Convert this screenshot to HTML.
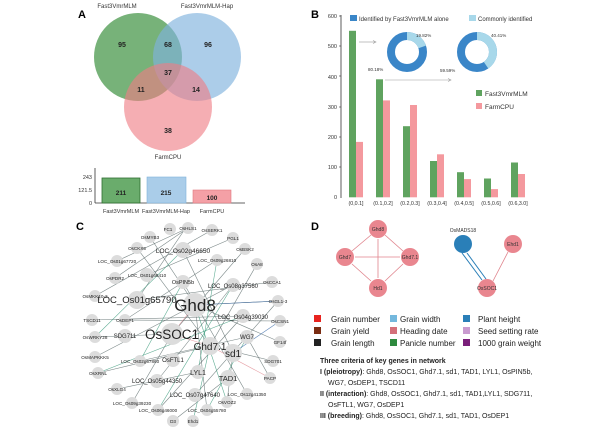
<!DOCTYPE html>
<html><head><meta charset="utf-8"><style>
html,body{margin:0;padding:0;background:#fff;}
svg{display:block;font-family:"Liberation Sans",Arial,sans-serif;}
</style></head><body>
<svg width="616" height="428" viewBox="0 0 616 428" xmlns="http://www.w3.org/2000/svg">
<rect width="616" height="428" fill="#fff"/>
<!-- Panel A -->
<text x="78" y="18" font-size="11" font-weight="bold">A</text>
<text x="117" y="8" font-size="6" text-anchor="middle" fill="#333">Fast3VmrMLM</text>
<text x="207" y="8" font-size="6" text-anchor="middle" fill="#333">Fast3VmrMLM-Hap</text>
<circle cx="138" cy="57" r="44" fill="#3d9140" fill-opacity="0.7"/>
<circle cx="197" cy="57" r="44" fill="#7fb2dd" fill-opacity="0.65"/>
<circle cx="168" cy="107" r="44" fill="#ef7d85" fill-opacity="0.62"/>
<g font-size="7" font-weight="bold" text-anchor="middle" fill="#222">
<text x="122" y="47">95</text><text x="168" y="47">68</text><text x="208" y="47">96</text>
<text x="168" y="75">37</text><text x="141" y="92">11</text><text x="196" y="92">14</text><text x="168" y="133">38</text></g>
<text x="168" y="159" font-size="6" text-anchor="middle" fill="#333">FarmCPU</text>
<line x1="95" y1="168" x2="95" y2="203" stroke="#333" stroke-width="0.8"/>
<line x1="95" y1="203" x2="245" y2="203" stroke="#333" stroke-width="0.8"/>
<g font-size="5.5" text-anchor="end" fill="#333"><text x="92" y="179">243</text><text x="92" y="192">121.5</text><text x="92" y="205">0</text></g>
<rect x="102" y="178" width="38" height="25" fill="#6aac6c" stroke="#2f6e31" stroke-width="0.8"/>
<rect x="147" y="177" width="39" height="26" fill="#aacde9" stroke="#7fb2dd" stroke-width="0.6"/>
<rect x="193" y="190" width="38" height="13" fill="#f4a0a6" stroke="#e07880" stroke-width="0.6"/>
<g font-size="6.5" font-weight="bold" text-anchor="middle" fill="#222"><text x="121" y="195">211</text><text x="166" y="195">215</text><text x="212" y="200">100</text></g>
<g font-size="5.5" text-anchor="middle" fill="#333"><text x="121" y="213">Fast3VmrMLM</text><text x="166" y="213">Fast3VmrMLM-Hap</text><text x="212" y="213">FarmCPU</text></g>
<!-- Panel B -->
<text x="311" y="18" font-size="11" font-weight="bold">B</text>
<line x1="341" y1="15" x2="341" y2="198" stroke="#333" stroke-width="0.8"/>
<g font-size="5.5" text-anchor="end" fill="#333">
<text x="337" y="18">600</text><text x="337" y="48">500</text><text x="337" y="79">400</text><text x="337" y="109">300</text><text x="337" y="139">200</text><text x="337" y="169">100</text><text x="337" y="199">0</text></g>
<g stroke="#333" stroke-width="0.6"><line x1="339" y1="16" x2="341" y2="16"/><line x1="339" y1="46" x2="341" y2="46"/><line x1="339" y1="76" x2="341" y2="76"/><line x1="339" y1="107" x2="341" y2="107"/><line x1="339" y1="137" x2="341" y2="137"/><line x1="339" y1="167" x2="341" y2="167"/></g>
<g fill="#5fa35f">
<rect x="349" y="30.8" width="7" height="166.5"/><rect x="376" y="79.3" width="7" height="118"/><rect x="403" y="126.2" width="7" height="71.1"/><rect x="430" y="161" width="7" height="36.3"/><rect x="457" y="172.2" width="7" height="25.1"/><rect x="484" y="178.5" width="7" height="18.8"/><rect x="511" y="162.5" width="7" height="34.8"/></g>
<g fill="#f4999e">
<rect x="356" y="141.9" width="7" height="55.4"/><rect x="383" y="100.4" width="7" height="96.9"/><rect x="410" y="105" width="7" height="92.3"/><rect x="437" y="154.3" width="7" height="43"/><rect x="464" y="179.1" width="7" height="18.2"/><rect x="491" y="189.1" width="7" height="8.2"/><rect x="518" y="174" width="7" height="23.3"/></g>
<g font-size="5.3" text-anchor="middle" fill="#333">
<text x="356" y="205">(0,0.1]</text><text x="383" y="205">(0.1,0.2]</text><text x="410" y="205">(0.2,0.3]</text><text x="437" y="205">(0.3,0.4]</text><text x="464" y="205">(0.4,0.5]</text><text x="491" y="205">(0.5,0.6]</text><text x="518" y="205">(0.6,3.0]</text></g>
<rect x="350" y="15" width="7" height="6" fill="#3a86c8"/><text x="359" y="21" font-size="6" fill="#333">Identified by Fast3VmrMLM alone</text>
<rect x="469" y="15" width="7" height="6" fill="#a8d8ea"/><text x="478" y="21" font-size="6" fill="#333">Commonly identified</text>
<circle cx="407" cy="52" r="16" fill="none" stroke="#3a86c8" stroke-width="8"/>
<circle cx="407" cy="52" r="16" fill="none" stroke="#a8d8ea" stroke-width="8" stroke-dasharray="19.92 200" transform="rotate(-90 407 52)"/>
<circle cx="477" cy="52" r="16" fill="none" stroke="#3a86c8" stroke-width="8"/>
<circle cx="477" cy="52" r="16" fill="none" stroke="#a8d8ea" stroke-width="8" stroke-dasharray="40.62 200" transform="rotate(-90 477 52)"/>
<g font-size="4.5" fill="#333"><text x="416" y="37">19.82%</text><text x="368" y="71">80.18%</text><text x="491" y="37">40.41%</text><text x="440" y="72">59.59%</text></g>
<g stroke="#999" stroke-width="0.6"><line x1="359" y1="42" x2="375" y2="42"/><line x1="385" y1="80" x2="450" y2="80"/></g>
<path d="M373 40.5L376 42L373 43.5M448 78.5L451 80L448 81.5" fill="none" stroke="#999" stroke-width="0.6"/>
<rect x="476" y="90" width="6" height="6" fill="#5fa35f"/><text x="485" y="96" font-size="6.5" fill="#333">Fast3VmrMLM</text>
<rect x="476" y="103" width="6" height="6" fill="#f4999e"/><text x="485" y="109" font-size="6.5" fill="#333">FarmCPU</text>
<!-- Panel C -->
<text x="76" y="230" font-size="11" font-weight="bold">C</text>
<g stroke-width="0.6" stroke-opacity="0.8">
<g stroke="#5a6a6a">
<line x1="185" y1="229" x2="137" y2="300"/><line x1="188" y1="228" x2="115" y2="278"/><line x1="212" y1="230" x2="95" y2="296"/><line x1="233" y1="238" x2="147" y2="275"/><line x1="150" y1="237" x2="195" y2="305"/><line x1="183" y1="250" x2="233" y2="353"/><line x1="217" y1="260" x2="125" y2="320"/><line x1="245" y1="249" x2="172" y2="334"/><line x1="257" y1="264" x2="210" y2="346"/><line x1="272" y1="282" x2="137" y2="300"/><line x1="278" y1="301" x2="195" y2="305"/><line x1="280" y1="321" x2="125" y2="320"/><line x1="280" y1="342" x2="195" y2="305"/><line x1="273" y1="361" x2="210" y2="346"/><line x1="270" y1="378" x2="247" y2="337"/><line x1="95" y1="337" x2="172" y2="334"/><line x1="95" y1="357" x2="233" y2="285"/><line x1="98" y1="373" x2="210" y2="346"/><line x1="117" y1="389" x2="198" y2="372"/><line x1="132" y1="403" x2="172" y2="334"/><line x1="158" y1="410" x2="243" y2="316"/><line x1="207" y1="410" x2="195" y2="305"/><line x1="227" y1="402" x2="233" y2="353"/><line x1="247" y1="394" x2="183" y2="282"/><line x1="92" y1="320" x2="243" y2="316"/><line x1="140" y1="361" x2="247" y2="337"/><line x1="157" y1="381" x2="233" y2="285"/><line x1="195" y1="395" x2="278" y2="301"/><line x1="173" y1="421" x2="228" y2="378"/><line x1="117" y1="261" x2="188" y2="228"/><line x1="137" y1="248" x2="210" y2="346"/>
</g>
<g stroke="#3a9a7a">
<line x1="183" y1="250" x2="95" y2="337"/><line x1="233" y1="285" x2="158" y2="410"/><line x1="195" y1="305" x2="227" y2="402"/><line x1="210" y1="346" x2="193" y2="421"/><line x1="247" y1="337" x2="207" y2="410"/><line x1="183" y1="282" x2="140" y2="361"/><line x1="243" y1="316" x2="98" y2="373"/><line x1="217" y1="260" x2="198" y2="372"/>
</g>
<g stroke="#3a6aa8"><line x1="195" y1="305" x2="278" y2="301"/><line x1="233" y1="353" x2="280" y2="321"/></g>
<g stroke="#e08890"><line x1="195" y1="305" x2="172" y2="334"/><line x1="172" y1="334" x2="210" y2="346"/><line x1="210" y1="346" x2="270" y2="378"/></g>
</g>
<g fill="#dcdcdc">
<circle cx="170" cy="229" r="6"/><circle cx="188" cy="228" r="6"/><circle cx="212" cy="230" r="6"/><circle cx="150" cy="237" r="6"/><circle cx="233" cy="238" r="6"/><circle cx="137" cy="248" r="6"/><circle cx="183" cy="250" r="8"/><circle cx="245" cy="249" r="6"/><circle cx="117" cy="261" r="6"/><circle cx="217" cy="260" r="6"/><circle cx="257" cy="264" r="6"/><circle cx="115" cy="278" r="6"/><circle cx="147" cy="275" r="7"/><circle cx="183" cy="282" r="7"/><circle cx="233" cy="285" r="7"/><circle cx="272" cy="282" r="6"/><circle cx="95" cy="296" r="6"/><circle cx="137" cy="300" r="9"/><circle cx="195" cy="305" r="12"/><circle cx="278" cy="301" r="6"/><circle cx="92" cy="320" r="6"/><circle cx="125" cy="320" r="6"/><circle cx="243" cy="316" r="7"/><circle cx="280" cy="321" r="6"/><circle cx="95" cy="337" r="6"/><circle cx="125" cy="336" r="7"/><circle cx="172" cy="334" r="11"/><circle cx="210" cy="346" r="9"/><circle cx="247" cy="337" r="7"/><circle cx="280" cy="342" r="6"/><circle cx="233" cy="353" r="9"/><circle cx="95" cy="357" r="6"/><circle cx="140" cy="361" r="6"/><circle cx="173" cy="360" r="7"/><circle cx="273" cy="361" r="6"/><circle cx="198" cy="372" r="7"/><circle cx="98" cy="373" r="6"/><circle cx="228" cy="378" r="8"/><circle cx="270" cy="378" r="6"/><circle cx="157" cy="381" r="7"/><circle cx="117" cy="389" r="6"/><circle cx="195" cy="395" r="7"/><circle cx="247" cy="394" r="6"/><circle cx="132" cy="403" r="6"/><circle cx="227" cy="402" r="6"/><circle cx="158" cy="410" r="6"/><circle cx="207" cy="410" r="6"/><circle cx="173" cy="421" r="6"/><circle cx="193" cy="421" r="6"/>
</g>
<g font-size="4.6" text-anchor="middle" fill="#222">
<text x="168" y="231">FC1</text><text x="188" y="230">OsHLS1</text><text x="212" y="232">OsSERK1</text><text x="150" y="239">OsMYB3</text><text x="233" y="240">PGL1</text><text x="137" y="250">OsCKX5</text><text x="245" y="251">OsBSK2</text><text x="117" y="263">LOC_Os01g67720</text><text x="217" y="262">LOC_Os09g26810</text><text x="257" y="266">OsA8</text><text x="115" y="280">OsPDR2</text><text x="147" y="277">LOC_Os01g66410</text><text x="272" y="284">OsCCA1</text><text x="95" y="298">OsMKK10-2</text><text x="278" y="303">OsGL1-3</text><text x="92" y="322">TSCD11</text><text x="125" y="322">OsDEP1</text><text x="280" y="323">OsCSN1</text><text x="95" y="339">OsWRKY28</text><text x="280" y="344">GF14f</text><text x="95" y="359">OsMAPKKK5</text><text x="140" y="363">LOC_Os02g57860</text><text x="273" y="363">SDG701</text><text x="98" y="375">OsXRNL</text><text x="270" y="380">PACP</text><text x="117" y="391">OsXLG4</text><text x="247" y="396">LOC_Os12g41350</text><text x="132" y="405">LOC_Os09g39230</text><text x="227" y="404">OsVOZ2</text><text x="158" y="412">LOC_Os06g46000</text><text x="207" y="412">LOC_Os04g55780</text><text x="173" y="423">D3</text><text x="193" y="423">Ehd1</text>
</g>
<g text-anchor="middle" fill="#222">
<text x="183" y="253" font-size="6.5">LOC_Os02g46650</text><text x="183" y="284" font-size="5.5">OsPIN5b</text><text x="233" y="288" font-size="6">LOC_Os08g37560</text><text x="243" y="319" font-size="6">LOC_Os04g39030</text>
<text x="137" y="303" font-size="9.5">LOC_Os01g65790</text><text x="195" y="311" font-size="17">Ghd8</text><text x="172" y="339" font-size="13.5">OsSOC1</text>
<text x="210" y="350" font-size="10">Ghd7.1</text><text x="233" y="357" font-size="10">sd1</text><text x="125" y="338" font-size="6">SDG711</text><text x="247" y="339" font-size="6">WG7</text>
<text x="173" y="362" font-size="6">OsFTL1</text><text x="198" y="375" font-size="7">LYL1</text><text x="228" y="381" font-size="7.5">TAD1</text><text x="157" y="383" font-size="6">LOC_Os05g44350</text><text x="195" y="397" font-size="6">LOC_Os07g47640</text>
</g>
<!-- Panel D -->
<text x="311" y="230" font-size="11" font-weight="bold">D</text>
<g stroke="#e0838c" stroke-width="0.8" fill="none">
<line x1="371" y1="235" x2="352" y2="251"/><line x1="385" y1="235" x2="403" y2="251"/><line x1="352" y1="264" x2="371" y2="281"/><line x1="403" y1="264" x2="385" y2="281"/><line x1="355" y1="257" x2="400" y2="257"/><line x1="378" y1="239" x2="378" y2="278"/><line x1="493" y1="281" x2="508" y2="252"/>
</g>
<g stroke="#2a7fb8" stroke-width="1"><line x1="482" y1="280" x2="462" y2="253"/><line x1="486" y1="279" x2="467" y2="253"/></g>
<g fill="#e9868f"><circle cx="378" cy="229" r="9"/><circle cx="345" cy="257" r="9"/><circle cx="410" cy="257" r="9"/><circle cx="378" cy="288" r="9"/><circle cx="513" cy="244" r="9"/><circle cx="487" cy="288" r="9"/></g>
<circle cx="463" cy="244" r="9" fill="#2a7fb8"/>
<g font-size="5" text-anchor="middle" fill="#333"><text x="378" y="231">Ghd8</text><text x="345" y="259">Ghd7</text><text x="410" y="259">Ghd7.1</text><text x="378" y="290">Hd1</text><text x="513" y="246">Ehd1</text><text x="487" y="290">OsSOC1</text><text x="463" y="232">OsMADS18</text></g>
<g font-size="8" fill="#222">
<rect x="314" y="315" width="7" height="7" fill="#e8231f"/><text x="331" y="322">Grain number</text>
<rect x="314" y="327" width="7" height="7" fill="#7a2c12"/><text x="331" y="334">Grain yield</text>
<rect x="314" y="339" width="7" height="7" fill="#222"/><text x="331" y="346">Grain length</text>
<rect x="390" y="315" width="7" height="7" fill="#74b8dd"/><text x="400" y="322">Grain width</text>
<rect x="390" y="327" width="7" height="7" fill="#d4707a"/><text x="400" y="334">Heading date</text>
<rect x="390" y="339" width="7" height="7" fill="#2e8a3e"/><text x="400" y="346">Panicle number</text>
<rect x="463" y="315" width="7" height="7" fill="#2a7fb8"/><text x="478" y="322">Plant height</text>
<rect x="463" y="327" width="7" height="7" fill="#c99bd0"/><text x="478" y="334">Seed setting rate</text>
<rect x="463" y="339" width="7" height="7" fill="#7a1f7a"/><text x="478" y="346">1000 grain weight</text>
</g>
<g font-size="7" fill="#222">
<text x="320" y="363" font-weight="bold">Three criteria of key genes in network</text>
<text x="320" y="374"><tspan font-weight="bold">I (pleiotropy)</tspan>: Ghd8, OsSOC1, Ghd7.1, sd1, TAD1, LYL1, OsPIN5b,</text>
<text x="328" y="385">WG7, OsDEP1, TSCD11</text>
<text x="320" y="396"><tspan font-weight="bold">II (interaction)</tspan>: Ghd8, OsSOC1, Ghd7.1, sd1, TAD1,LYL1, SDG711,</text>
<text x="328" y="407">OsFTL1, WG7, OsDEP1</text>
<text x="320" y="418"><tspan font-weight="bold">III (breeding)</tspan>: Ghd8, OsSOC1, Ghd7.1, sd1, TAD1, OsDEP1</text>
</g>
</svg>
</body></html>
